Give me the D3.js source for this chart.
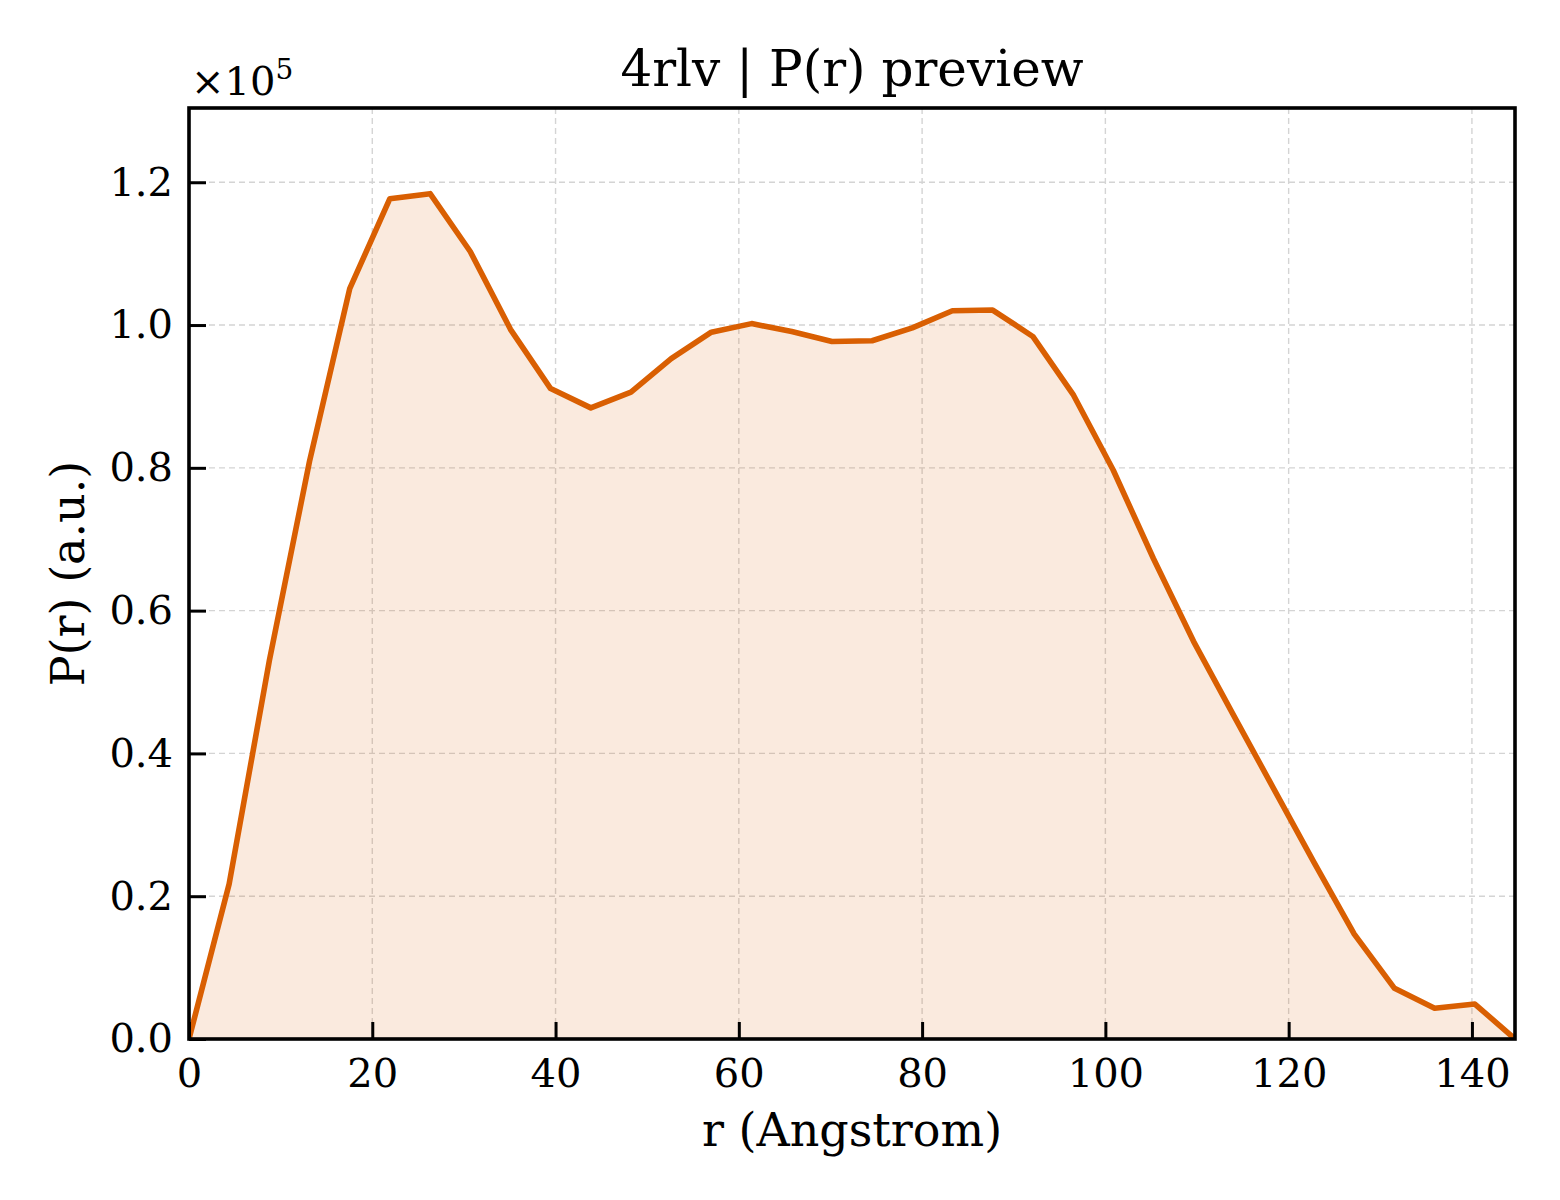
<!DOCTYPE html>
<html>
<head>
<meta charset="utf-8">
<script src="https://cdn.jsdelivr.net/npm/d3@7"></script>
<style>
  html, body { margin: 0; padding: 0; background: #fff; }
  svg text { font-family: "DejaVu Serif", serif; fill: #000; }
</style>
</head>
<body>
<div id="page"></div>
<script>
(function() {

  "use strict";

  // r values (Angstrom)
  var r_values = [
    0, 4.38, 8.77, 13.15, 17.54, 21.92, 26.31, 30.69, 35.08, 39.46,
    43.85, 48.23, 52.62, 57.00, 61.39, 65.77, 70.16, 74.54, 78.93, 83.31,
    87.70, 92.08, 96.47, 100.85, 105.24, 109.62, 114.01, 118.39, 122.78, 127.16,
    131.55, 135.93, 140.32, 144.70
  ];

  // P(r), in units of 1e5
  var p_values = [
    0, 0.217, 0.53, 0.809, 1.051, 1.177, 1.184, 1.103, 0.994, 0.911,
    0.884, 0.906, 0.953, 0.990, 1.002, 0.991, 0.977, 0.978, 0.996, 1.020,
    1.021, 0.984, 0.903, 0.797, 0.673, 0.557, 0.453, 0.350, 0.247, 0.147,
    0.071, 0.043, 0.049, 0
  ];

  var x_ticks = [0, 20, 40, 60, 80, 100, 120, 140];
  var y_ticks = [0, 0.2, 0.4, 0.6, 0.8, 1.0, 1.2];

  var title = "4rlv | P(r) preview",
    x_label = "r (Angstrom)",
    y_label = "P(r) (a.u.)";

  /* * * * * * * * * * * * * * * * * * * */

  var W = 1560, H = 1200,
    left = 189, right = 1515, top = 108, bottom = 1039,
    orange = "#d95f02";

  var svg = d3.select("#page").append("svg")
    .attr("width", W)
    .attr("height", H);

  var x = d3.scaleLinear().domain([0, 144.7]).range([left, right]);
  var y = d3.scaleLinear().domain([0, 1.304]).range([bottom, top]);

  var pts = r_values.map(function(r, i) { return [r, p_values[i]]; });

  svg.append("defs").append("clipPath")
    .attr("id", "clip")
    .append("rect")
    .attr("x", left).attr("y", top)
    .attr("width", right - left).attr("height", bottom - top);

  // grid
  var grid = svg.append("g")
    .attr("stroke", "#d4d4d4")
    .attr("stroke-width", 1.4)
    .attr("stroke-dasharray", "6,4");

  grid.selectAll(".gx")
    .data(x_ticks.filter(function(t) { return t > 0; }))
    .enter().append("line")
    .attr("x1", function(t) { return x(t); })
    .attr("x2", function(t) { return x(t); })
    .attr("y1", top).attr("y2", bottom);

  grid.selectAll(".gy")
    .data(y_ticks.filter(function(t) { return t > 0; }))
    .enter().append("line")
    .attr("y1", function(t) { return y(t); })
    .attr("y2", function(t) { return y(t); })
    .attr("x1", left).attr("x2", right);

  /* * * * * * * * * * * * * * * * * * * */

  var area = d3.area()
    .x(function(d) { return x(d[0]); })
    .y0(y(0))
    .y1(function(d) { return y(d[1]); });

  var line = d3.line()
    .x(function(d) { return x(d[0]); })
    .y(function(d) { return y(d[1]); });

  var plot = svg.append("g").attr("clip-path", "url(#clip)");

  plot.append("path")
    .datum(pts)
    .attr("d", area)
    .attr("fill", orange)
    .attr("fill-opacity", 0.13);

  plot.append("path")
    .datum(pts)
    .attr("d", line)
    .attr("fill", "none")
    .attr("stroke", orange)
    .attr("stroke-width", 5.6)
    .attr("stroke-linejoin", "round");

  /* * * * * * * * * * * * * * * * * * * */

  // axes, ticks pointing inward
  var xAxis = d3.axisBottom(x)
    .tickValues(x_ticks)
    .tickSizeInner(-17)
    .tickSizeOuter(0)
    .tickPadding(20)
    .tickFormat(d3.format("d"));

  var yAxis = d3.axisLeft(y)
    .tickValues(y_ticks)
    .tickSizeInner(-17)
    .tickSizeOuter(0)
    .tickPadding(16)
    .tickFormat(d3.format(".1f"));

  var gx = svg.append("g")
    .attr("transform", "translate(0," + bottom + ")")
    .call(xAxis);

  var gy = svg.append("g")
    .attr("transform", "translate(" + left + ",0)")
    .call(yAxis);

  [gx, gy].forEach(function(g) {
    g.select(".domain").remove();
    g.selectAll(".tick line").attr("stroke", "#000").attr("stroke-width", 3);
    g.selectAll(".tick text")
      .attr("font-size", 40)
      .attr("font-family", "DejaVu Serif");
  });

  // frame
  svg.append("rect")
    .attr("x", left).attr("y", top)
    .attr("width", right - left).attr("height", bottom - top)
    .attr("fill", "none")
    .attr("stroke", "#000")
    .attr("stroke-width", 3.6);

  /* * * * * * * * * * * * * * * * * * * */

  svg.append("text")
    .attr("x", (left + right) / 2)
    .attr("y", 86)
    .attr("text-anchor", "middle")
    .attr("font-size", 50)
    .text(title);

  svg.append("text")
    .attr("x", (left + right) / 2)
    .attr("y", 1146)
    .attr("text-anchor", "middle")
    .attr("font-size", 46)
    .text(x_label);

  svg.append("text")
    .attr("transform", "translate(84," + ((top + bottom) / 2) + ") rotate(-90)")
    .attr("text-anchor", "middle")
    .attr("font-size", 46)
    .text(y_label);

  var off = svg.append("text")
    .attr("x", 191)
    .attr("y", 95)
    .attr("font-size", 40);
  off.append("tspan").text("\u00d710");
  off.append("tspan")
    .attr("font-size", 28)
    .attr("dy", -16)
    .text("5");

})();
</script>
</body>
</html>
